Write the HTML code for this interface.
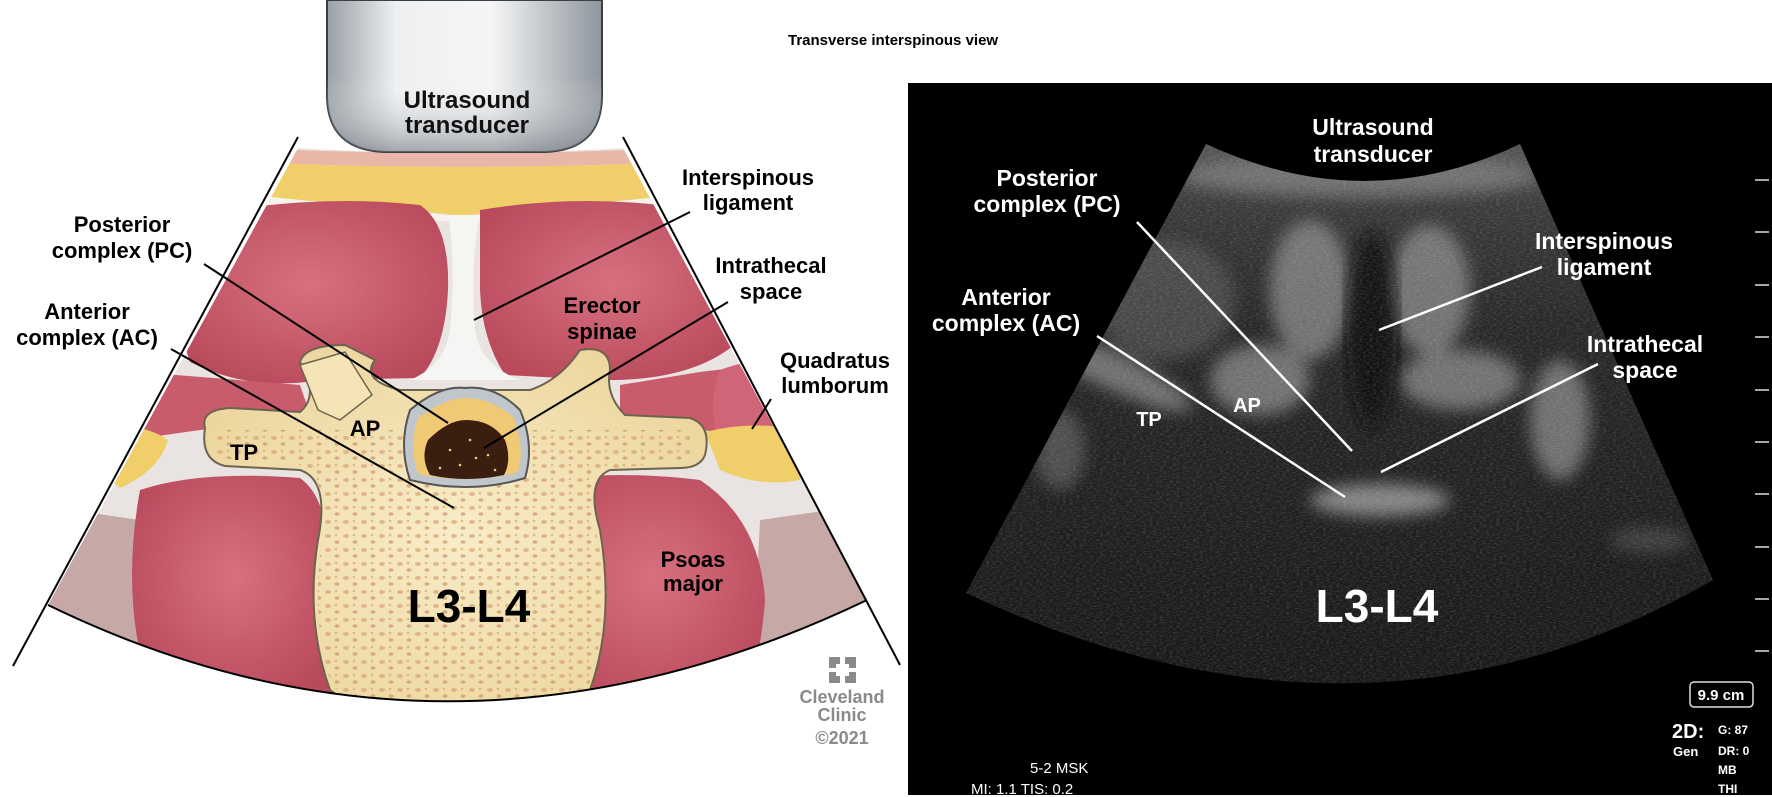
<!DOCTYPE html>
<html><head><meta charset="utf-8"><style>
html,body{margin:0;padding:0;background:#fff;}
svg{display:block;}
text{font-family:"Liberation Sans",Arial,sans-serif;font-weight:bold;}
</style></head><body>
<svg width="1772" height="797" viewBox="0 0 1772 797" xmlns="http://www.w3.org/2000/svg">
<defs>
<clipPath id="fanL"><path d="M298,148 Q460,158 623,148 L867,600 Q449,800 48,605 Z"/></clipPath>
<clipPath id="fanR"><path d="M1206,144 Q1366,218 1520,144 L1713,580 Q1366,780 966,593 Z"/></clipPath>
<linearGradient id="tr" x1="0" x2="1" y1="0" y2="0">
<stop offset="0" stop-color="#9aa0a6"/><stop offset="0.25" stop-color="#eef0f2"/><stop offset="0.6" stop-color="#f4f5f6"/><stop offset="1" stop-color="#8e959c"/></linearGradient>
<linearGradient id="trv" x1="0" x2="0" y1="0" y2="1">
<stop offset="0.5" stop-color="#fff" stop-opacity="0"/><stop offset="1" stop-color="#6d757d" stop-opacity="0.6"/></linearGradient>
<radialGradient id="mus" cx="0.5" cy="0.45" r="0.6"><stop offset="0" stop-color="#d8707f"/><stop offset="1" stop-color="#b84a5c"/></radialGradient>
<radialGradient id="bone" cx="0.5" cy="0.5" r="0.6"><stop offset="0" stop-color="#f8ecc8"/><stop offset="1" stop-color="#ecd59c"/></radialGradient>
<pattern id="spk" width="18" height="14" patternUnits="userSpaceOnUse">
<ellipse cx="4" cy="4" rx="3" ry="2" fill="#d9a878"/><ellipse cx="13" cy="10" rx="2.5" ry="1.8" fill="#cf9a6c"/><circle cx="12" cy="3" r="1.3" fill="#d9a878"/></pattern>
<filter id="noise" x="0" y="0" width="100%" height="100%">
<feTurbulence type="fractalNoise" baseFrequency="0.3 0.8" numOctaves="2" seed="3"/>
<feColorMatrix type="matrix" values="0 0 0 0 1  0 0 0 0 1  0 0 0 0 1  2.2 0 0 0 -0.9"/>
</filter>
<filter id="blur8"><feGaussianBlur stdDeviation="8"/></filter>
<linearGradient id="usg" x1="0" x2="0" y1="0" y2="1">
<stop offset="0" stop-color="#5a5a5a"/><stop offset="0.12" stop-color="#3a3a3a"/><stop offset="0.3" stop-color="#282828"/><stop offset="0.7" stop-color="#1c1c1c"/><stop offset="1" stop-color="#151515"/></linearGradient>
</defs>

<g clip-path="url(#fanL)">
<rect x="0" y="140" width="900" height="600" fill="#e9e4e2"/>
<path d="M250,148 Q460,158 680,148 L680,162 Q460,172 250,162Z" fill="#e8b7a8"/>
<path d="M250,162 Q460,172 680,162 L680,195 L470,215 L455,215 L250,195Z" fill="#f0cf6a"/>
<path d="M250,195 L455,216 L470,216 L680,195 L680,205 L470,222 L455,222 L250,205Z" fill="#f7f2ea"/>
<path d="M0,500 L140,520 L150,720 L0,720Z" fill="#c6a9a6"/>
<path d="M900,500 L760,520 L750,720 L900,720Z" fill="#c6a9a6"/>
<path d="M230,210 Q330,195 420,205 Q450,225 448,290 Q445,350 420,378 L320,380 Q250,392 190,362 L170,300 Z" fill="url(#mus)"/>
<path d="M480,210 Q570,195 660,205 Q720,260 745,335 Q700,382 600,380 L505,375 Q482,340 480,290Z" fill="url(#mus)"/>
<path d="M140,372 L300,385 L312,420 L200,430 L130,440 Z" fill="#c85b6c"/>
<path d="M620,385 L700,372 L800,360 L800,440 L700,430 L620,420Z" fill="#c85b6c"/>
<path d="M720,370 Q760,355 800,360 L800,450 Q760,460 722,448 Q705,410 720,370Z" fill="#d06577"/>
<path d="M40,380 Q90,360 130,375 Q150,410 130,448 Q80,455 40,440Z" fill="#d06577"/>
<path d="M90,430 Q140,420 168,440 Q160,470 120,488 Q95,470 90,430Z" fill="#f0cf6a"/>
<path d="M705,432 Q750,420 800,430 L800,480 Q760,488 720,470Z" fill="#f0cf6a"/>
<path d="M140,490 Q200,470 300,478 Q330,500 325,560 Q320,640 335,700 L150,690 Q120,600 140,490Z" fill="url(#mus)"/>
<path d="M540,480 Q620,470 700,480 Q760,520 765,600 Q760,670 740,700 L550,705 Q580,640 575,560 Q570,500 540,480Z" fill="url(#mus)"/>
<path d="M448,215 L480,215 Q470,260 475,330 Q480,365 520,380 L410,380 Q445,365 450,330 Q456,260 448,215Z" fill="#f5f5f3"/>
<path d="M205,428 Q200,410 230,408 L300,412 Q320,395 300,362 Q305,345 345,345 L375,360 Q360,380 400,390 L530,390 Q560,380 580,350 Q610,345 610,370 Q605,395 625,415 L690,418 Q712,425 705,455 Q700,468 680,468 L610,470 Q585,480 600,530 Q615,620 590,690 Q540,720 460,722 Q370,720 330,690 Q305,620 318,540 Q330,480 300,470 L225,466 Q200,460 205,428Z" fill="url(#bone)" stroke="#6d6450" stroke-width="2"/>
<path d="M215,430 L690,430 L690,460 L600,470 Q585,490 598,540 Q612,620 588,688 Q540,715 460,716 Q370,714 332,686 Q310,620 322,540 Q332,490 300,465 L215,458Z" fill="url(#spk)" opacity="0.75"/>
<path d="M300,365 L345,352 L372,395 L340,420 L318,410Z" fill="#f5e5b6" stroke="#6d6450" stroke-width="1.5"/>
<path d="M410,410 Q440,385 465,388 Q495,385 520,410 Q535,445 525,478 Q470,495 410,480 Q398,445 410,410Z" fill="#bfc6cc" stroke="#555" stroke-width="2"/>
<path d="M418,418 Q445,398 465,398 Q492,398 514,418 Q525,450 518,472 Q470,485 418,474 Q408,445 418,418Z" fill="#f0c974"/>
<path d="M428,440 Q448,420 466,420 Q492,420 505,440 Q512,460 504,475 Q466,483 430,475 Q420,458 428,440Z" fill="#3a1f10"/>
<g fill="#e8c888"><circle cx="450" cy="450" r="1.3"/><circle cx="470" cy="440" r="1.3"/><circle cx="488" cy="455" r="1.3"/><circle cx="460" cy="465" r="1.3"/><circle cx="440" cy="468" r="1.3"/><circle cx="495" cy="470" r="1.3"/><circle cx="476" cy="458" r="1.3"/></g>
</g>
<path d="M298,137 L13,666" stroke="#000" stroke-width="2"/>
<path d="M623,137 L900,665" stroke="#000" stroke-width="2"/>
<path d="M48,605 Q449,800 867,600" fill="none" stroke="#000" stroke-width="2"/>
<path d="M327,0 L327,95 Q327,150 385,152 L545,152 Q602,150 602,95 L602,0Z" fill="url(#tr)" stroke="#3a3f44" stroke-width="2"/>
<path d="M327,0 L327,95 Q327,150 385,152 L545,152 Q602,150 602,95 L602,0Z" fill="url(#trv)"/>
<text x="467" y="108" font-size="24" text-anchor="middle" fill="#111">Ultrasound</text>
<text x="467" y="133" font-size="24" text-anchor="middle" fill="#111">transducer</text>

<g stroke="#000" stroke-width="2">
<line x1="204" y1="264" x2="448" y2="423"/>
<line x1="171" y1="349" x2="454" y2="508"/>
<line x1="690" y1="212" x2="474" y2="320"/>
<line x1="728" y1="302" x2="484" y2="448"/>
<line x1="771" y1="399" x2="752" y2="429"/>
</g>
<g font-size="22" text-anchor="middle" fill="#000">
<text x="122" y="232">Posterior</text><text x="122" y="258">complex (PC)</text>
<text x="87" y="319">Anterior</text><text x="87" y="345">complex (AC)</text>
<text x="748" y="185">Interspinous</text><text x="748" y="210">ligament</text>
<text x="771" y="273">Intrathecal</text><text x="771" y="299">space</text>
<text x="602" y="313">Erector</text><text x="602" y="339">spinae</text>
<text x="835" y="368">Quadratus</text><text x="835" y="393">lumborum</text>
<text x="693" y="567">Psoas</text><text x="693" y="591">major</text>
<text x="244" y="460">TP</text><text x="365" y="436">AP</text>
<text x="469" y="622" font-size="46">L3-L4</text>
</g>
<g fill="#8a8a8a">
<path d="M829,657 h11 v7 h-4 v4 h-7Z M845,657 h11 v11 h-7 v-4 h-4Z M829,672 h7 v4 h4 v7 h-11Z M849,676 v-4 h7 v11 h-11 v-7Z"/>
</g>
<g font-size="18" text-anchor="middle" fill="#8a8a8a">
<text x="842" y="703">Cleveland</text><text x="842" y="721">Clinic</text>
<text x="842" y="744" font-weight="normal">©2021</text>
</g>

<text x="788" y="45" font-size="15" fill="#000">Transverse interspinous view</text>

<rect x="908" y="83" width="864" height="712" fill="#000"/>
<g clip-path="url(#fanR)">
<rect x="940" y="130" width="800" height="660" fill="url(#usg)"/>
<g filter="url(#blur8)" fill="#9a9a9a" opacity="0.65">
<ellipse cx="1360" cy="175" rx="180" ry="22" fill="#888"/>
<ellipse cx="1165" cy="300" rx="70" ry="60" fill="#5a5a5a"/>
<ellipse cx="1310" cy="290" rx="40" ry="70"/>
<ellipse cx="1430" cy="290" rx="40" ry="65"/>
<ellipse cx="1110" cy="370" rx="90" ry="18" transform="rotate(25 1110 370)"/>
<ellipse cx="1260" cy="380" rx="50" ry="35"/>
<ellipse cx="1460" cy="380" rx="60" ry="30"/>
<ellipse cx="1380" cy="500" rx="70" ry="16" fill="#bbb"/>
<ellipse cx="1560" cy="420" rx="30" ry="60"/>
<ellipse cx="1060" cy="450" rx="25" ry="40" fill="#666"/>
<ellipse cx="1650" cy="540" rx="40" ry="12" fill="#555"/>
</g>
<ellipse cx="1372" cy="330" rx="25" ry="100" fill="#111" filter="url(#blur8)" opacity="0.8"/>
<rect x="940" y="130" width="800" height="660" filter="url(#noise)" opacity="0.15"/>
</g>
<g stroke="#ddd" stroke-width="1.5">
<line x1="1755" y1="180" x2="1769" y2="180"/><line x1="1755" y1="232" x2="1769" y2="232"/>
<line x1="1755" y1="285" x2="1769" y2="285"/><line x1="1755" y1="337" x2="1769" y2="337"/>
<line x1="1755" y1="390" x2="1769" y2="390"/><line x1="1755" y1="442" x2="1769" y2="442"/>
<line x1="1755" y1="494" x2="1769" y2="494"/><line x1="1755" y1="547" x2="1769" y2="547"/>
<line x1="1755" y1="599" x2="1769" y2="599"/><line x1="1755" y1="651" x2="1769" y2="651"/>
</g>
<g stroke="#fff" stroke-width="2.5">
<line x1="1137" y1="222" x2="1352" y2="451"/>
<line x1="1542" y1="267" x2="1379" y2="330"/>
<line x1="1097" y1="336" x2="1345" y2="497"/>
<line x1="1598" y1="364" x2="1381" y2="472"/>
</g>
<g font-size="23" text-anchor="middle" fill="#fff">
<text x="1373" y="135">Ultrasound</text><text x="1373" y="162">transducer</text>
<text x="1047" y="186">Posterior</text><text x="1047" y="212">complex (PC)</text>
<text x="1604" y="249">Interspinous</text><text x="1604" y="275">ligament</text>
<text x="1006" y="305">Anterior</text><text x="1006" y="331">complex (AC)</text>
<text x="1645" y="352">Intrathecal</text><text x="1645" y="378">space</text>
<text x="1149" y="426" font-size="20">TP</text><text x="1247" y="412" font-size="20">AP</text>
<text x="1377" y="622" font-size="46">L3-L4</text>
</g>
<rect x="1690" y="682" width="63" height="25" rx="4" fill="none" stroke="#ddd" stroke-width="1.5"/>
<text x="1721" y="700" font-size="15" text-anchor="middle" fill="#fff">9.9 cm</text>
<text x="1672" y="738" font-size="20" fill="#fff">2D:</text>
<text x="1673" y="756" font-size="13" fill="#fff">Gen</text>
<g font-size="12" fill="#fff"><text x="1718" y="734">G: 87</text><text x="1718" y="755">DR: 0</text><text x="1718" y="774">MB</text><text x="1718" y="793">THI</text></g>
<g font-size="15" fill="#fff"><text x="1030" y="773" style="font-weight:normal">5-2  MSK</text><text x="971" y="794" style="font-weight:normal">MI: 1.1  TIS: 0.2</text></g>
</svg>
</body></html>
